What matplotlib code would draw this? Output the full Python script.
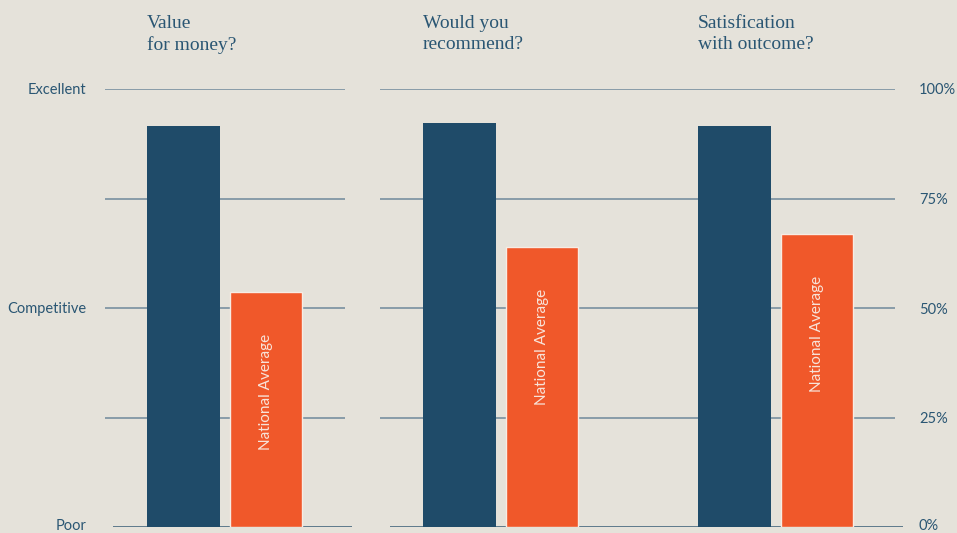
import matplotlib.pyplot as plt
import matplotlib.transforms as mtransforms
import numpy as np

questions = ["Value\nfor money?", "Would you\nrecommend?", "Satisfication\nwith outcome?"]
our_scores = [91.6, 92.2, 91.6]
national_avg = [53.7, 63.9, 66.9]
left_ticks = [0, 50, 100]
left_labels = ["Poor", "Competitive", "Excellent"]
right_ticks = [0, 25, 50, 75, 100]
right_labels = ["0%", "25%", "50%", "75%", "100%"]

bg = "#e5e2da"
navy = "#1f4b69"
orange = "#f0582a"
txt = "#2a5673"
grid_c = "#7890a0"

fig = plt.figure(figsize=(9.57, 5.33), dpi=100, facecolor=bg)
ax = fig.add_axes([105 / 957, 6 / 533, 798 / 957, 438 / 533])
ax.set_facecolor(bg)

x = np.arange(len(questions))
w = 0.265
off = 0.15
ax.set_xlim(-0.4356, 2.461)
ax.set_ylim(0, 100)

# gridlines: one block for the left question, one for the other two
for y in right_ticks[1:]:
    ax.hlines(y, -0.4356, 0.4356, color=grid_c, lw=1.2, zorder=1)
    ax.hlines(y, 0.5626, 2.432, color=grid_c, lw=1.2, zorder=1)
ax.hlines(0, -0.4065, 0.461, color="#5e7a8b", lw=1.4, zorder=1)
ax.hlines(0, 0.599, 2.461, color="#5e7a8b", lw=1.4, zorder=1)

ax.bar(x - off, our_scores, width=w, color=navy, zorder=2)
ax.bar(x + off, national_avg, width=w - 0.004, color=orange,
       edgecolor="#f7ece4", linewidth=1, zorder=2)

for i, v in enumerate(national_avg):
    ax.annotate("National Average", (x[i] + off, v), xytext=(0, -42),
                textcoords="offset pixels", rotation=90, ha="center", va="top",
                color="#f8e4da", fontsize=11, family="Lato", zorder=3)
    ax.text(x[i] - off - w / 2, 1.168, questions[i], transform=ax.get_xaxis_transform(),
            ha="left", va="top", color=txt, fontsize=14, family="Liberation Serif",
            linespacing=1.3)

for s in ax.spines.values():
    s.set_visible(False)
ax.set_xticks([])
ax.set_yticks(left_ticks)
ax.set_yticklabels(left_labels, family="Lato", fontsize=10.5, color=txt)
ax.tick_params(axis="y", length=0, pad=13.5)

ax2 = ax.twinx()
ax2.set_ylim(0, 100)
for s in ax2.spines.values():
    s.set_visible(False)
ax2.set_yticks(right_ticks)
ax2.set_yticklabels(right_labels, family="Lato", fontsize=10.5, color=txt)
ax2.tick_params(axis="y", length=0, pad=11.5)

# lift the bottom labels a touch so they stay inside the figure
lift = mtransforms.ScaledTranslation(0, 3 / 100, fig.dpi_scale_trans)
for a in (ax, ax2):
    lbl = a.get_yticklabels()[0]
    lbl.set_transform(lbl.get_transform() + lift)

fig.savefig("out.png", dpi=100, facecolor=bg)
